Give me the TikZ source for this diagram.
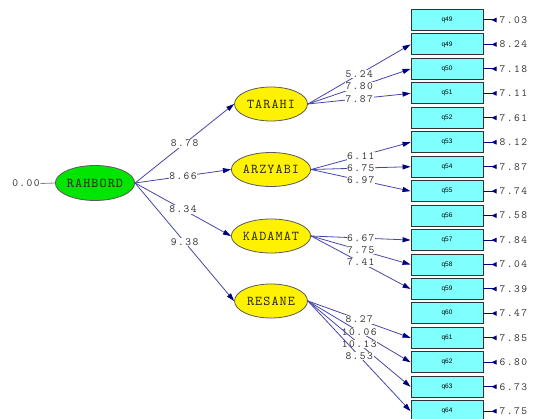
\documentclass[tikz,border=0pt]{standalone}
\usepackage{fontspec}
\newfontfamily\qfont{Liberation Sans}
\newfontfamily\numfam[LetterSpace=13]{lmmono10-regular.otf}
\newfontfamily\latfam[LetterSpace=8]{lmmono10-regular.otf}
\usetikzlibrary{shapes.geometric,arrows.meta}
\definecolor{qcyan}{RGB}{128,255,255}
\definecolor{boxedge}{RGB}{50,50,50}
\definecolor{latentedge}{RGB}{90,90,90}
\definecolor{latenttext}{RGB}{40,40,20}
\definecolor{pathblue}{RGB}{70,70,170}
\definecolor{headnavy}{RGB}{0,0,128}
\definecolor{numtext}{RGB}{55,55,55}
\definecolor{rgreen}{RGB}{0,230,0}
\newcommand{\numfnt}{\numfam\fontsize{11}{11}\selectfont}
\newcommand{\latfnt}{\latfam\fontsize{13.5}{13.5}\selectfont}
\begin{document}
\begin{tikzpicture}[x=1pt,y=-1pt,
  latent/.style={ellipse, draw=latentedge, line width=0.8pt, fill=yellow,
    minimum width=73pt, minimum height=34pt, inner sep=0pt,
    font=\latfnt, text=latenttext},
  obs/.style={rectangle, draw=boxedge, line width=0.9pt, fill=qcyan,
    minimum width=72pt, minimum height=21pt, inner sep=0pt,
    font=\qfont\fontsize{6.5}{6.5}\selectfont},
  est/.style={fill=white, inner sep=0.6pt, font=\numfnt, text=numtext},
  errlab/.style={anchor=west, inner sep=0.5pt, font=\numfnt, text=numtext},
  link/.style={draw=pathblue, line width=0.8pt,
    -{Triangle[length=8pt,width=5pt,color=headnavy]}},
  errarrow/.style={draw=headnavy, line width=1pt, shorten <=2.5pt,
    {Triangle[reversed,length=5pt,width=4.5pt]}-}
]
\useasboundingbox (0,0) rectangle (534,419);

% observed variables
\foreach \i/\lab/\err in {0/q49/7.03, 1/q49/8.24, 2/q50/7.18, 3/q51/7.11,
  4/q52/7.61, 5/q53/8.12, 6/q54/7.87, 7/q55/7.74, 8/q56/7.58, 9/q57/7.84,
  10/q58/7.04, 11/q59/7.39, 12/q60/7.47, 13/q61/7.85, 14/q62/6.80,
  15/q63/6.73, 16/q64/7.75}{
  \node[obs] (o\i) at (447,{20+24.45*\i}) {\lab};
  \node[errlab] (e\i) at (499,{20+24.45*\i}) {\err};
  \draw[errarrow] (e\i.west) -- (o\i.east);
}

% latent variables
\node[ellipse, draw=latentedge, line width=0.8pt, fill=rgreen,
  minimum width=73pt, minimum height=35pt, inner sep=0pt,
  font=\latfnt, text=latenttext]
  (rahbord) at (95,183) {RAHBORD};
\node[latent] (tarahi) at (271,104) {TARAHI};
\node[latent] (arzyabi) at (271,169.5) {ARZYABI};
\node[latent] (kadamat) at (271,236) {KADAMAT};
\node[latent] (resane) at (271,301) {RESANE};

\node[est] (zero) at (26,183.5) {0.00};
\draw[gray, line width=0.8pt] (zero.east) -- (rahbord.west);

% structural paths
\draw[link] (rahbord.east) -- node[est]{8.78} (tarahi.west);
\draw[link] (rahbord.east) -- node[est]{8.66} (arzyabi.west);
\draw[link] (rahbord.east) -- node[est]{8.34} (kadamat.west);
\draw[link] (rahbord.east) -- node[est]{9.38} (resane.west);

% measurement paths
\draw[link] (tarahi.east) -- node[est]{5.24} (o1.west);
\draw[link] (tarahi.east) -- node[est]{7.80} (o2.west);
\draw[link] (tarahi.east) -- node[est]{7.87} (o3.west);

\draw[link] (arzyabi.east) -- node[est]{6.11} (o5.west);
\draw[link] (arzyabi.east) -- node[est]{6.75} (o6.west);
\draw[link] (arzyabi.east) -- node[est]{6.97} (o7.west);

\draw[link] (kadamat.east) -- node[est]{6.67} (o9.west);
\draw[link] (kadamat.east) -- node[est]{7.75} (o10.west);
\draw[link] (kadamat.east) -- node[est]{7.41} (o11.west);

\draw[link] (resane.east) -- node[est]{8.27} (o13.west);
\draw[link] (resane.east) -- node[est]{10.06} (o14.west);
\draw[link] (resane.east) -- node[est]{10.13} (o15.west);
\draw[link] (resane.east) -- node[est]{8.53} (o16.west);
\end{tikzpicture}
\end{document}
